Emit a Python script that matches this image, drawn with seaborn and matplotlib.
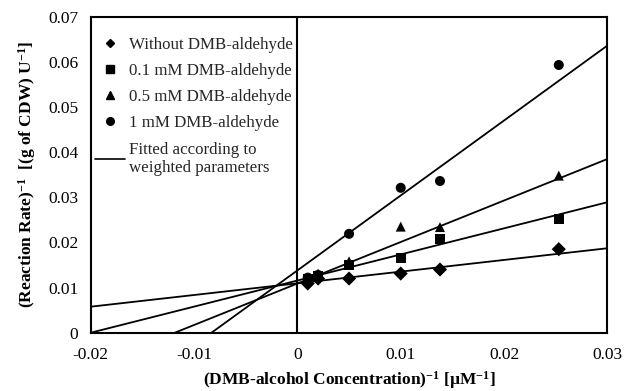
import numpy as np
import pandas as pd
import matplotlib
matplotlib.use("Agg")
import matplotlib.pyplot as plt
from matplotlib.lines import Line2D
import seaborn as sns

# Reciprocal DMB-alcohol concentration (1/µM)
inv_conc = [0.001, 0.002, 0.005, 0.01, 0.0138, 0.0253]

# Reciprocal reaction rates [(g of CDW) U^-1] for each DMB-aldehyde level
rate_none = [0.0109, 0.0120, 0.0120, 0.0131, 0.0140, 0.0185]
rate_01mM = [0.0120, 0.0125, 0.0150, 0.0166, 0.0207, 0.0251]
rate_05mM = [0.0118, 0.0131, 0.0158, 0.0235, 0.0234, 0.0348]
rate_1mM = [0.0122, 0.0128, 0.0219, 0.0321, 0.0336, 0.0593]

series_names = ["Without DMB-aldehyde", "0.1 mM DMB-aldehyde",
                "0.5 mM DMB-aldehyde", "1 mM DMB-aldehyde"]
series_markers = ["D", "s", "^", "o"]

# Weighted-fit Lineweaver-Burk lines: intercept (1/Vmax) and slope (Km/Vmax)
fit_intercepts = [0.01094, 0.01156, 0.01090, 0.01380]
fit_slopes = [0.2588, 0.578, 0.919, 1.66]

x_ticks = [-0.02, -0.01, 0, 0.01, 0.02, 0.03]
x_tick_labels = ["-0.02", "-0.01", "0", "0.01", "0.02", "0.03"]
y_ticks = [0, 0.01, 0.02, 0.03, 0.04, 0.05, 0.06, 0.07]
y_tick_labels = ["0", "0.01", "0.02", "0.03", "0.04", "0.05", "0.06", "0.07"]

sns.set_theme(style="white")
plt.rcParams["font.family"] = ["Liberation Serif", "DejaVu Serif"]
plt.rcParams["mathtext.default"] = "regular"

points = pd.DataFrame({
    "x": inv_conc * 4,
    "y": rate_none + rate_01mM + rate_05mM + rate_1mM,
    "series": np.repeat(series_names, len(inv_conc)),
})

fig = plt.figure(figsize=(6.24, 3.91), dpi=100)
ax = fig.add_axes([0.1455, 0.1491, 0.8278, 0.8082])

# Fitted lines across the full x-range
x_line = np.array([x_ticks[0], x_ticks[-1]])
for b, m in zip(fit_intercepts, fit_slopes):
    sns.lineplot(x=x_line, y=b + m * x_line, ax=ax, color="black",
                 linewidth=1.3, legend=False)

sns.scatterplot(data=points, x="x", y="y", style="series",
                markers=dict(zip(series_names, series_markers)),
                color="black", s=52, edgecolor="black", linewidth=0,
                legend=False, ax=ax, zorder=3)

ax.axvline(0, color="black", linewidth=1.5, zorder=2)

ax.set_xlim(x_ticks[0], x_ticks[-1])
ax.set_ylim(y_ticks[0], y_ticks[-1])
ax.set_xticks(x_ticks)
ax.set_xticklabels(x_tick_labels)
ax.set_yticks(y_ticks)
ax.set_yticklabels(y_tick_labels)
ax.tick_params(axis="both", direction="out", length=4, width=1.2,
               color="black", labelsize=12.5, labelcolor="black", pad=5)
ax.tick_params(axis="x", pad=6)
for sp in ax.spines.values():
    sp.set_color("black")
    sp.set_linewidth(1.5)

ax.set_xlabel("(DMB-alcohol Concentration)$^{-1}$ [µM$^{-1}$]",
              fontsize=12.5, fontweight="bold", color="black", labelpad=5)
ax.set_ylabel("(Reaction Rate)$^{-1}$  [(g of CDW) U$^{-1}$]",
              fontsize=12.5, fontweight="bold", color="black", labelpad=7)

handles = [Line2D([], [], marker=mk, linestyle="none", color="black",
                  markersize=5.5 if mk != "D" else 4.5)
           for mk in series_markers]
handles.append(Line2D([], [], color="black", linewidth=1.2))
labels = series_names + ["Fitted according to\nweighted parameters"]
leg = ax.legend(handles, labels, loc="upper left", frameon=False,
                fontsize=12.2, bbox_to_anchor=(0.008, 0.936),
                handlelength=1.8, handletextpad=0.2, labelspacing=0.6,
                borderpad=0, borderaxespad=0)

fig.savefig("out.png", dpi=100)
